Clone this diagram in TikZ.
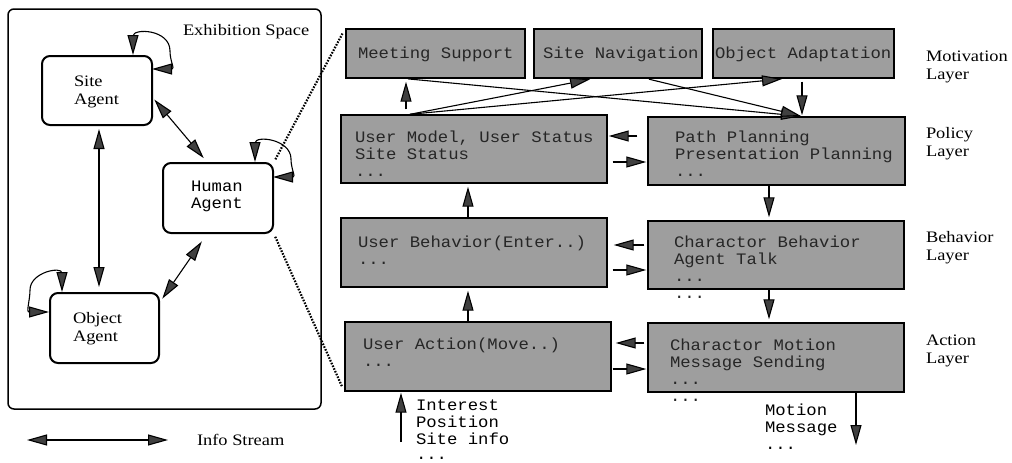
\documentclass[tikz,border=0pt]{standalone}
\usepackage{fontspec}
\usetikzlibrary{arrows.meta}
\newfontfamily\serf{Liberation Serif}[FakeStretch=1.15]
\newfontfamily\mono{Liberation Mono}[FakeStretch=1.08]
\newcommand\ml[1]{\parbox[t]{320pt}{#1}}
\begin{document}
\begin{tikzpicture}[x=1pt,y=-1pt,
  >={Triangle[length=20pt,width=11pt,fill=black!75]},
  conn/.style={line width=1.1pt, draw=black},
  arr/.style={conn, ->, shorten >=1pt},
  darr/.style={conn, <->},
  gbox/.style={draw, line width=1.4pt, fill=black!38, inner sep=0pt},
  abox/.style={draw, line width=2pt, rounded corners=8pt, fill=white, inner sep=0pt},
  dots/.style={line width=2.2pt, dash pattern=on 1.6pt off 1.4pt},
  txt/.style={anchor=base west, inner sep=0pt, outer sep=0pt},
  mtxt/.style={txt, font=\mono\fontsize{16}{17}\selectfont, text=black!85},
  stxt/.style={txt, font=\serf\fontsize{16}{18}\selectfont}]
\fill[white] (0,0) rectangle (1012,463);
\useasboundingbox (0,0) rectangle (1012,463);

% exhibition space
\node[draw, line width=1.5pt, rounded corners=6pt, minimum width=313pt, minimum height=400pt, inner sep=0pt] (space) at (164.5,209) {};
\node[stxt] (tex) at (183,35) {Exhibition Space};

% right boxes
\node[gbox, minimum width=179pt, minimum height=49pt] (ms) at (435.5,53.5) {};
\node[gbox, minimum width=168pt, minimum height=49pt] (sn) at (618,53.5) {};
\node[gbox, minimum width=181pt, minimum height=49pt] (oa) at (803.5,53.5) {};
\node[gbox, minimum width=266pt, minimum height=68pt] (um) at (474,149) {};
\node[gbox, minimum width=257pt, minimum height=68pt] (pp) at (776.5,151) {};
\node[gbox, minimum width=266pt, minimum height=69pt] (ub) at (474,252.5) {};
\node[gbox, minimum width=256pt, minimum height=68pt] (cb) at (776,255) {};
\node[gbox, minimum width=266pt, minimum height=69pt] (ua) at (478,356.5) {};
\node[gbox, minimum width=256pt, minimum height=69pt] (cm) at (776,357.5) {};

% agent boxes
\node[abox, minimum width=110pt, minimum height=69pt] (site) at (97,90.5) {};
\node[abox, minimum width=110pt, minimum height=70pt] (human) at (218,198) {};
\node[abox, minimum width=109pt, minimum height=70pt] (obj) at (104.5,328) {};

% dotted zoom lines
\draw[dots, shorten <=3pt, shorten >=5pt] (human.north east) -- (ms.north west);
\draw[dots, shorten <=3pt, shorten >=5pt] (human.south east) -- (ua.south west);

% texts
\node[stxt] (tsa) at (74,86) {\ml{Site\\Agent}};
\node[mtxt, text=black] (tha) at (191,191) {\ml{Human\\Agent}};
\node[stxt] (tob) at (73,323) {\ml{Object\\Agent}};
\node[stxt] (tis) at (197,445) {Info Stream};

\node[mtxt] (tms) at (358,58) {Meeting Support};
\node[mtxt] (tsn) at (543,58) {Site Navigation};
\node[mtxt] (toa) at (715,58) {Object Adaptation};
\node[mtxt] (tum) at (355,142) {\ml{User Model, User Status\\Site Status\\...}};
\node[mtxt] (tpp) at (675,142) {\ml{Path Planning\\Presentation Planning\\...}};
\node[mtxt] (tub) at (358,247) {\ml{User Behavior(Enter..)\\...}};
\node[mtxt] (tcb) at (674,247) {\ml{Charactor Behavior\\Agent Talk\\...\\...}};
\node[mtxt] (tua) at (363,349) {\ml{User Action(Move..)\\...}};
\node[mtxt] (tcm) at (670,350) {\ml{Charactor Motion\\Message Sending\\...\\...}};
\node[mtxt, text=black] (tin) at (416,410) {\ml{Interest\\Position\\Site info\\[-2pt]...}};
\node[mtxt, text=black] (tout) at (765,415) {\ml{Motion\\Message\\...}};

\node[stxt] (lmo) at (926,61) {\ml{Motivation\\Layer}};
\node[stxt] (lpo) at (926,138) {\ml{Policy\\Layer}};
\node[stxt] (lbe) at (926,242) {\ml{Behavior\\Layer}};
\node[stxt] (lac) at (926,345) {\ml{Action\\Layer}};

% left connectors
\draw[darr, shorten <=2pt, shorten >=5pt] (site.east |- 0,98) -- (human.north -| 207,0);
\draw[darr, shorten <=3pt, shorten >=5pt] (site.south -| 99,0) -- (obj.north -| 99,0);
\draw[darr, shorten <=9pt, shorten >=4pt] (human.south -| 207,0) -- (obj.east |- 0,302);
% self loops
\draw[darr] (site.north -| 133,0) -- ++(0,-19)
  .. controls +(0,-8) and +(0,-22) .. ++(37,15)
  .. controls +(0,10) and +(3,0) .. ++(2,18) -- ++(-20,0);
\draw[darr] (human.north -| 255,0) -- ++(0,-19)
  .. controls +(0,-8) and +(0,-20) .. ++(36,16)
  .. controls +(0,10) and +(3,0) .. ++(2,18) -- ++(-20,0);
\draw[darr] (obj.north -| 62,0) -- ++(0,-19)
  .. controls +(0,-7) and +(0,-18) .. ++(-32,17)
  .. controls +(0,10) and +(-3,0) .. ++(-1,22) -- ++(20,0);
\coordinate (isa) at (27,440);
\coordinate (isb) at (168,440);
\draw[darr] (isa) -- (isb);

% right connectors
\draw[arr, shorten <=5pt, shorten >=3pt] (um.north -| 406,0) -- (ms.south -| 406,0);
\draw[arr, shorten <=2pt] (ms.south -| 406,0) -- (pp.north -| 802,0);
\draw[arr, shorten <=2pt] (sn.south -| 647,0) -- (pp.north -| 802,0);
\draw[arr, shorten >=3pt] (um.north -| 410,0) -- (sn.south -| 593,0);
\draw[arr, shorten >=3pt] (um.north -| 410,0) -- (oa.south -| 785,0);
\draw[arr, shorten <=3pt] (oa.south -| 802,0) -- (pp.north -| 802,0);
\draw[arr, shorten >=3pt] (ub.north -| 468,0) -- (um.south -| 468,0);
\draw[arr, shorten >=3pt] (ua.north -| 468,0) -- (ub.south -| 468,0);
\draw[arr, shorten >=3pt] (pp.south -| 769,0) -- (cb.north -| 769,0);
\draw[arr, shorten >=3pt] (cb.south -| 769,0) -- (cm.north -| 769,0);
\draw[arr, shorten <=10pt] (pp.west |- 0,136) -- (um.east |- 0,136);
\draw[arr, shorten <=5pt] (um.east |- 0,162) -- (pp.west |- 0,162);
\draw[arr, shorten <=3pt, shorten >=6pt] (cb.west |- 0,245) -- (ub.east |- 0,245);
\draw[arr, shorten <=5pt] (ub.east |- 0,270) -- (cb.west |- 0,270);
\draw[arr, shorten <=3pt, shorten >=4pt] (cm.west |- 0,343) -- (ua.east |- 0,343);
\draw[arr, shorten <=1pt] (ua.east |- 0,369) -- (cm.west |- 0,369);
\coordinate (in0) at (401,442);
\draw[arr] (in0) -- (ua.south -| 401,0);
\coordinate (out0) at (856,445);
\draw[arr, shorten >=0pt] (cm.south -| 856,0) -- (out0);
\end{tikzpicture}
\end{document}
